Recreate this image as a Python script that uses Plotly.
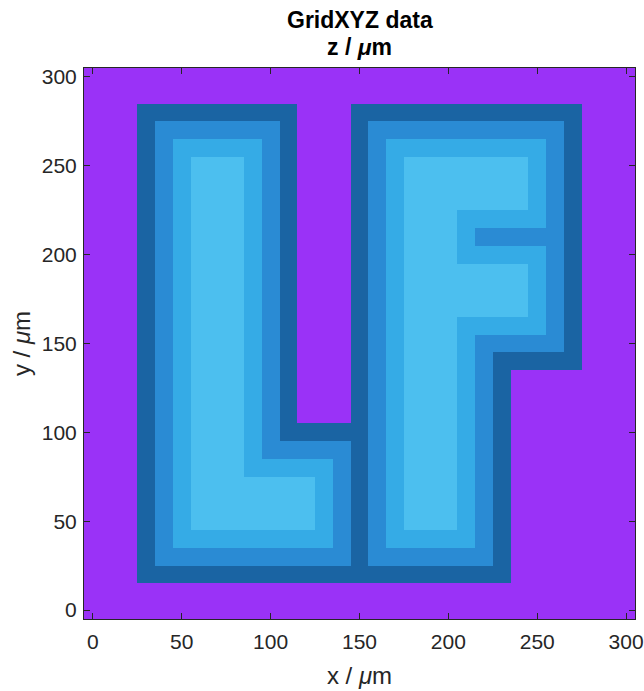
import plotly.graph_objects as go

# Cell centres (µm)
x_vals = list(range(0, 301, 10))
y_vals = list(range(300, -1, -10))  # rows listed top -> bottom

# Level map (0 = background, 1..4 = nested levels), top row first
rows = [
    "0000000000000000000000000000000",  # 300
    "0000000000000000000000000000000",  # 290
    "0001111111110001111111111111000",  # 280
    "0001222222210001222222222221000",  # 270
    "0001233333210001233333333321000",  # 260
    "0001234443210001234444444321000",  # 250
    "0001234443210001234444444321000",  # 240
    "0001234443210001234444444321000",  # 230
    "0001234443210001234443333321000",  # 220
    "0001234443210001234443222221000",  # 210
    "0001234443210001234443333321000",  # 200
    "0001234443210001234444444321000",  # 190
    "0001234443210001234444444321000",  # 180
    "0001234443210001234444444321000",  # 170
    "0001234443210001234443333321000",  # 160
    "0001234443210001234443222221000",  # 150
    "0001234443210001234443211111000",  # 140
    "0001234443210001234443210000000",  # 130
    "0001234443210001234443210000000",  # 120
    "0001234443210001234443210000000",  # 110
    "0001234443211111234443210000000",  # 100
    "0001234443222221234443210000000",  # 90
    "0001234443333321234443210000000",  # 80
    "0001234444444321234443210000000",  # 70
    "0001234444444321234443210000000",  # 60
    "0001234444444321234443210000000",  # 50
    "0001233333333321233333210000000",  # 40
    "0001222222222221222222210000000",  # 30
    "0001111111111111111111110000000",  # 20
    "0000000000000000000000000000000",  # 10
    "0000000000000000000000000000000",  # 0
]
z = [[int(c) for c in r] for r in rows]

tick_vals = [0, 50, 100, 150, 200, 250, 300]
level_colors = ["#9A32F7", "#1A64A3", "#2A8BD4", "#35ABE6", "#4CBFEF"]
title_lines = ["<b>GridXYZ data</b>", "<b>z / <i>μ</i>m</b>"]

n = len(level_colors)
colorscale = [[i / (n - 1), c] for i, c in enumerate(level_colors)]

fig = go.Figure(
    go.Heatmap(
        x=x_vals, y=y_vals, z=z,
        zmin=0, zmax=n - 1,
        colorscale=colorscale,
        showscale=False,
        hoverinfo="skip",
    )
)

axis_color = "#262626"
font_family = "Liberation Sans, Arial, sans-serif"

common_axis = dict(
    tickvals=tick_vals,
    ticks="inside",
    ticklen=6,
    tickwidth=1,
    tickcolor=axis_color,
    showline=True,
    linecolor=axis_color,
    linewidth=1,
    mirror="ticks",
    showgrid=False,
    zeroline=False,
    tickfont=dict(family=font_family, size=21, color=axis_color),
)

fig.update_xaxes(
    range=[-5, 305],
    title=dict(text="x / <i>μ</i>m", font=dict(family=font_family, size=24, color=axis_color), standoff=14),
    ticklabelstandoff=4,
    **common_axis,
)
fig.update_yaxes(
    range=[-5, 305],
    title=dict(text="y / <i>μ</i>m", font=dict(family=font_family, size=24, color=axis_color), standoff=4),
    ticklabelstandoff=2,
    **common_axis,
)

fig.update_layout(
    width=644,
    height=691,
    margin=dict(l=84, r=9, t=68, b=72, autoexpand=False),
    paper_bgcolor="white",
    plot_bgcolor="white",
    annotations=[
        dict(text=title_lines[0], xref="paper", yref="paper", x=0.5, y=1,
             xanchor="center", yanchor="middle", yshift=48, showarrow=False,
             font=dict(family=font_family, size=23, color="black")),
        dict(text=title_lines[1], xref="paper", yref="paper", x=0.5, y=1,
             xanchor="center", yanchor="middle", yshift=21, showarrow=False,
             font=dict(family=font_family, size=23, color="black")),
    ],
)

# Remove the default page margin so the figure fills the window exactly.
fig.write_html(
    "out.html",
    config={"displayModeBar": False},
    post_script="document.body.style.margin='0';document.body.style.overflow='hidden';",
)
